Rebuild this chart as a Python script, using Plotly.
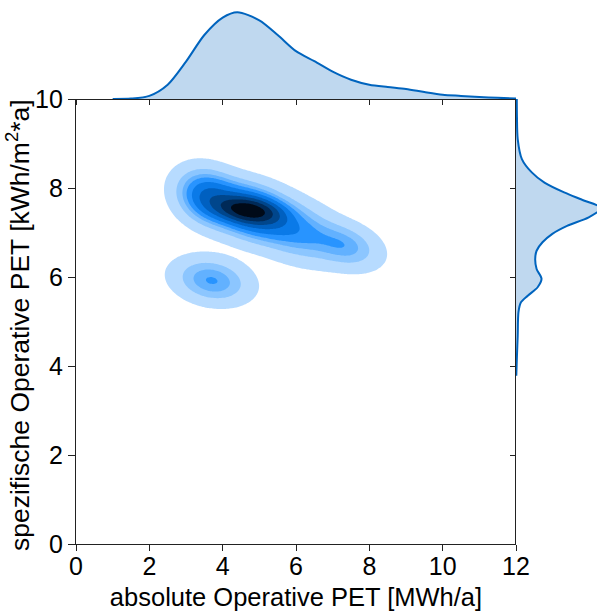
import numpy as np
import plotly.graph_objects as go

# ---------------- data ----------------
# marginal KDE of x (absolute Operative PET, MWh/a)
marg_x = [1.0, 1.5, 2.0, 2.5, 3.0, 3.5, 4.0, 4.4, 5.0, 5.5, 6.0, 6.5, 7.0, 7.5,
          8.0, 8.5, 9.0, 9.5, 10.0, 10.5, 11.0, 11.5, 12.0]
marg_x_dens = [0.000, 0.001, 0.008, 0.037, 0.097, 0.166, 0.211, 0.225, 0.204, 0.166,
               0.124, 0.098, 0.071, 0.050, 0.037, 0.031, 0.026, 0.018, 0.011, 0.008,
               0.005, 0.003, 0.001]

# marginal KDE of y (spezifische Operative PET, kWh/m2*a)
marg_y = [3.78, 4.23, 4.68, 5.21, 5.43, 5.58, 5.77, 5.96, 6.18, 6.40, 6.59, 6.78,
          6.97, 7.15, 7.34, 7.55, 7.72, 7.90, 8.12, 8.35, 8.65, 9.10, 9.60, 10.1]
marg_y_dens = [0.003, 0.010, 0.018, 0.026, 0.052, 0.124, 0.228, 0.269, 0.217, 0.202,
               0.217, 0.279, 0.383, 0.538, 0.766, 0.900, 0.714, 0.507, 0.300, 0.166,
               0.062, 0.018, 0.010, 0.008]

# bivariate density, described as gaussian components (centre, spread, correlation, weight)
comp_cx = [4.70, 3.60, 4.75, 6.00, 7.35, 3.70, 6.50]
comp_cy = [7.50, 7.80, 7.48, 7.05, 6.70, 5.92, 6.80]
comp_sx = [0.50, 0.50, 0.65, 0.70, 0.55, 0.60, 3.00]
comp_sy = [0.17, 0.36, 0.36, 0.40, 0.30, 0.30, 1.50]
comp_rho = [-0.30, -0.20, -0.30, -0.35, -0.30, -0.20, -0.20]
comp_w = [0.13, 0.15, 0.27, 0.13, 0.06, 0.085, 0.03]

iso_props = list(np.linspace(0.05, 1.0, 10))   # seaborn: levels=10, thresh=0.05

x_ticks = [0, 2, 4, 6, 8, 10, 12]
y_ticks = [0, 2, 4, 6, 8, 10]

x_title = "absolute Operative PET [MWh/a]"
y_title = "spezifische Operative PET [kWh/m<sup>2</sup>*a]"

band_colors = ["rgb(183,219,255)", "rgb(140,198,255)", "rgb(98,177,255)",
               "rgb(40,148,255)", "rgb(10,122,232)", "rgb(0,96,192)",
               "rgb(0,70,140)", "rgb(0,42,88)", "rgb(0,10,24)"]

line_col = "rgb(0,100,190)"
fill_col = "rgba(0,100,190,0.25)"
FONT = "Liberation Sans, Arial, sans-serif"

# ---------------- density grid ----------------
gx = np.linspace(0, 12, 301)
gy = np.linspace(0, 10, 301)
X, Y = np.meshgrid(gx, gy)
Z = np.zeros_like(X)
for cx, cy, sx, sy, r, w in zip(comp_cx, comp_cy, comp_sx, comp_sy, comp_rho, comp_w):
    zx = (X - cx) / sx
    zy = (Y - cy) / sy
    q = (zx ** 2 - 2 * r * zx * zy + zy ** 2) / (1 - r ** 2)
    Z += w * np.exp(-0.5 * q) / (2 * np.pi * sx * sy * np.sqrt(1 - r ** 2))

# iso-proportion transform (fraction of mass with lower density)
flat = Z.ravel()
order = np.argsort(flat)
cum = np.cumsum(flat[order])
cum /= cum[-1]
Q = np.empty_like(flat)
Q[order] = cum
Q = Q.reshape(Z.shape)

start = iso_props[0]
step = (iso_props[-1] - iso_props[0]) / (len(iso_props) - 1)
n_lev = len(iso_props)
cscale = [[0.0, "rgba(255,255,255,0)"]]
for k, c in enumerate(band_colors):
    cscale.append([(k + 1) / n_lev, c])
cscale.append([1.0, band_colors[-1]])

fig = go.Figure()
fig.add_trace(go.Contour(
    x=gx, y=gy, z=Q, xaxis="x", yaxis="y",
    autocontour=False,
    contours=dict(start=start, end=iso_props[-1] + 1e-4, size=step,
                  coloring="fill", showlines=False),
    colorscale=cscale, showscale=False, line_width=0, hoverinfo="skip"))

fig.add_trace(go.Scatter(
    x=marg_x, y=marg_x_dens, xaxis="x2", yaxis="y2", mode="lines",
    line=dict(color=line_col, width=2, shape="spline", smoothing=0.8),
    fill="tozeroy", fillcolor=fill_col, hoverinfo="skip"))

fig.add_trace(go.Scatter(
    x=marg_y_dens, y=marg_y, xaxis="x3", yaxis="y3", mode="lines",
    line=dict(color=line_col, width=2, shape="spline", smoothing=0.8),
    fill="tozerox", fillcolor=fill_col, hoverinfo="skip"))

W, H = 597, 611
x0, x1 = 76 / W, 516 / W
y0, y1 = 1 - 544 / H, 1 - 99 / H
top1 = 1 - 10 / H
axcol = "#222222"
tickfont = dict(family=FONT, size=25, color="black")

peak_x = max(marg_x_dens)
peak_y = max(marg_y_dens)

fig.update_layout(
    width=W, height=H, margin=dict(l=0, r=0, t=0, b=0),
    paper_bgcolor="white", plot_bgcolor="white", showlegend=False,
    font=dict(family=FONT, size=25, color="black"),
    xaxis=dict(domain=[x0, x1], range=[0, 12], anchor="y", tickvals=x_ticks,
               ticks="outside", ticklen=6, tickwidth=1.3, tickcolor=axcol,
               showline=True, linecolor=axcol, linewidth=1.3, showgrid=False,
               zeroline=False, tickfont=tickfont, automargin=False,
               ticklabelstandoff=-6,
               title=dict(text=x_title, font=dict(family=FONT, size=25.5), standoff=14)),
    yaxis=dict(domain=[y0, y1], range=[0, 10], anchor="x", tickvals=y_ticks,
               ticks="outside", ticklen=7, tickwidth=1.3, tickcolor=axcol,
               showline=True, linecolor=axcol, linewidth=1.3, showgrid=False,
               zeroline=False, tickfont=tickfont, automargin=False),
    xaxis2=dict(domain=[x0, x1], range=[0, 12], anchor="y2", matches="x",
                tickvals=x_ticks, ticks="outside", ticklen=5, tickwidth=1.3,
                tickcolor=axcol, showticklabels=False, showline=True,
                linecolor=axcol, linewidth=1.3, showgrid=False, zeroline=False),
    yaxis2=dict(domain=[y1, top1], range=[0, peak_x / 0.975], anchor="x2",
                visible=False),
    xaxis3=dict(domain=[x1, 1.0], range=[0, peak_y / 0.96 * 81 / 89], anchor="y3",
                visible=False),
    yaxis3=dict(domain=[y0, y1], range=[0, 10], anchor="x3", matches="y",
                tickvals=y_ticks, ticks="outside", ticklen=5, tickwidth=1.3,
                tickcolor=axcol, showticklabels=False, showline=True,
                linecolor=axcol, linewidth=1.3, showgrid=False, zeroline=False),
    annotations=[dict(text=y_title, xref="paper", yref="paper",
                      x=18 / W, y=1 - 325 / H, xanchor="center", yanchor="middle",
                      textangle=-90, showarrow=False,
                      font=dict(family=FONT, size=26.5, color="black"))],
)

fig.write_html("out.html")
